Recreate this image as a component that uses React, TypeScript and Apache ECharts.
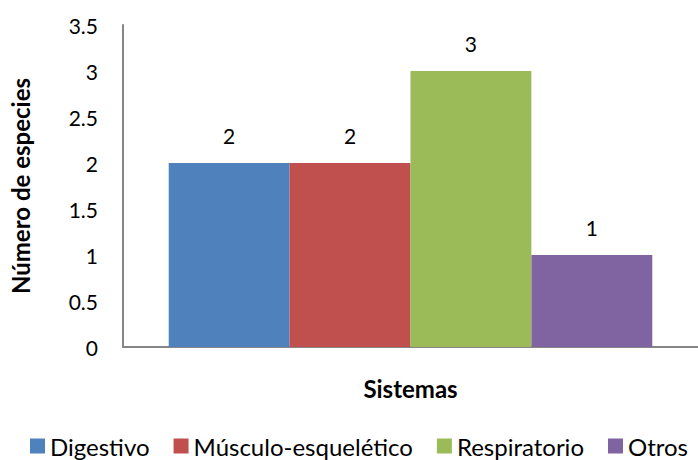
import React, { useEffect, useRef } from "react";
import * as echarts from "echarts";

const seriesNames = ["Digestivo", "Músculo-esquelético", "Respiratorio", "Otros"];
const speciesCounts = [2, 2, 3, 1];
const seriesColors = ["#4F81BD", "#C0504D", "#9BBB59", "#8064A2"];
const yTicks = { min: 0, max: 3.5, interval: 0.5 };

const FONT = "Lato, 'Open Sans', sans-serif";

export default function App() {
  const ref = useRef<HTMLDivElement>(null);

  useEffect(() => {
    if (!ref.current) return;
    const chart = echarts.init(ref.current, null, { renderer: "svg" });
    chart.setOption({
      animation: false,
      textStyle: { fontFamily: FONT },
      grid: { left: 116, top: 25, height: 322, width: 593, containLabel: false },
      legend: {
        data: seriesNames,
        left: 30,
        top: 434,
        padding: 0,
        icon: "rect",
        itemWidth: 15,
        itemHeight: 15,
        itemGap: 24,
        textStyle: { fontSize: 24, color: "#000", fontFamily: FONT },
      },
      xAxis: {
        type: "category",
        data: [""],
        name: "Sistemas",
        nameLocation: "middle",
        nameGap: 29,
        nameTextStyle: { fontSize: 24, fontWeight: "bold", color: "#000", fontFamily: FONT },
        axisLine: { lineStyle: { color: "#868686", width: 2 } },
        axisTick: { show: false },
        axisLabel: { show: false },
      },
      yAxis: {
        type: "value",
        min: yTicks.min,
        max: yTicks.max,
        interval: yTicks.interval,
        name: "Número de especies",
        nameLocation: "middle",
        nameGap: 91,
        nameTextStyle: { fontSize: 24, fontWeight: "bold", color: "#000", fontFamily: FONT },
        axisLine: { show: true, lineStyle: { color: "#868686", width: 2 } },
        axisTick: { show: false },
        splitLine: { show: false },
        axisLabel: { fontSize: 21, color: "#000", margin: 25, fontFamily: FONT },
      },
      series: seriesNames.map((name, i) => ({
        name,
        type: "bar",
        data: [speciesCounts[i]],
        barGap: "0%",
        barCategoryGap: "15.9%",
        itemStyle: { color: seriesColors[i] },
        label: {
          show: true,
          position: "top",
          distance: 17,
          fontSize: 21,
          color: "#000",
          fontFamily: FONT,
        },
      })),
    });
    return () => chart.dispose();
  }, []);

  return (
    <div
      ref={ref}
      style={{ position: "absolute", left: 0, top: 0, width: 698, height: 460 }}
    />
  );
}
